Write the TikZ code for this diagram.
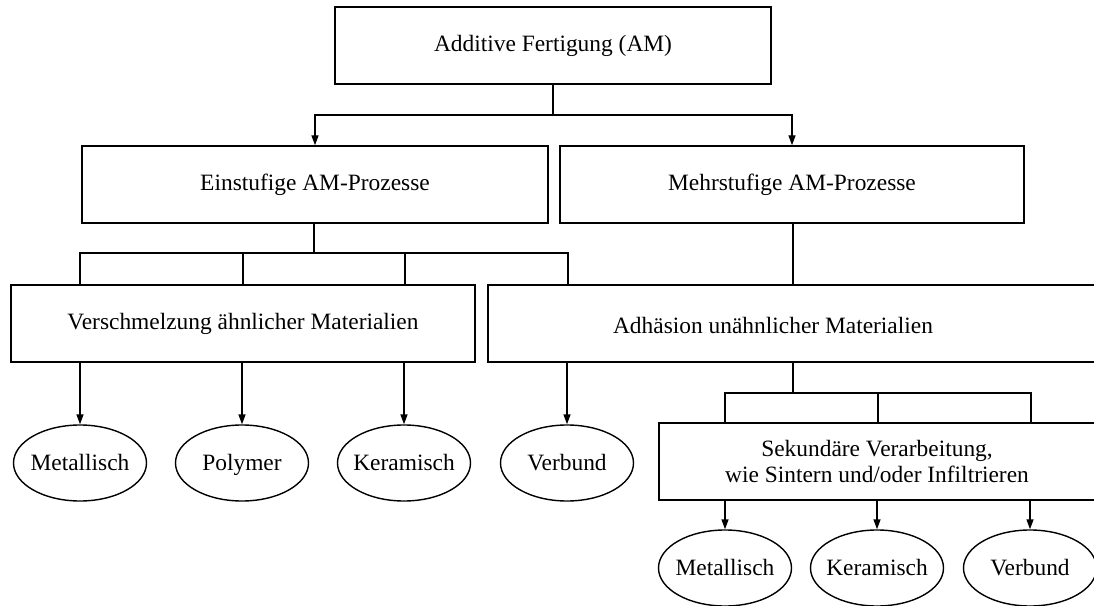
\documentclass[tikz,border=0pt]{standalone}
\usepackage{fontspec}
\setmainfont{Liberation Serif}
\usetikzlibrary{arrows.meta,shapes.geometric}
\tikzset{
  kasten/.style={rectangle,draw,line width=1.4bp,minimum height=77bp,
    inner sep=0pt,font=\fontsize{23.5}{27}\selectfont},
  oval/.style={ellipse,draw,line width=1.4bp,minimum width=133bp,
    minimum height=76bp,inner ysep=0pt,inner xsep=-12bp,
    text height=20bp,text depth=4.4bp,font=\fontsize{23.5}{27}\selectfont},
  beschriftung/.style={inner sep=0pt,font=\fontsize{23.5}{27}\selectfont},
  linie/.style={line width=1.4bp},
  pfeil/.style={linie,-{Triangle[length=10bp,width=7bp]}}
}

\begin{document}
\begin{tikzpicture}[x=1bp,y=-1bp]
\useasboundingbox (0,0) rectangle (1094,606);
% Kaesten
\node[kasten,minimum width=436bp] (am) at (553,45.5) {Additive Fertigung (AM)};
\node[kasten,minimum width=466bp] (ein) at (315,184.5) {Einstufige AM-Prozesse};
\node[kasten,minimum width=464bp] (mehr) at (792,184.5) {Mehrstufige AM-Prozesse};
\node[kasten,minimum width=464bp] (versch) at (243,323.5) {Verschmelzung ähnlicher Materialien};
\node[kasten,minimum width=612bp] (adh) at (794,323.5) {};
\node[beschriftung] (adhtext) at (773,325) {Adhäsion unähnlicher Materialien};
\node[kasten,minimum width=436bp,align=center] (sek) at (877,461.5)
  {Sekundäre Verarbeitung,\\wie Sintern und/oder Infiltrieren};
% Ellipsen
\node[oval] (met1) at (80,463) {Metallisch};
\node[oval] (pol1) at (242,463) {Polymer};
\node[oval] (ker1) at (404,463) {Keramisch};
\node[oval] (ver1) at (567,463) {Verbund};
\node[oval] (met2) at (725,568) {Metallisch};
\node[oval] (ker2) at (877,568) {Keramisch};
\node[oval] (ver2) at (1030,568) {Verbund};
% Verbindungen
\coordinate (t1) at (553,115);
\coordinate (t2) at (314,253);
\coordinate (t3) at (793,393);
\draw[linie] (am.south) -- (t1);
\draw[pfeil] (t1) -| (ein);
\draw[pfeil] (t1) -| (mehr);
\draw[linie] (t2 |- ein.south) -- (t2);
\foreach \x in {80,243,405}
  \draw[linie] (t2) -| (\x,0 |- versch.north);
\draw[linie] (t2) -| (568,0 |- adh.north);
\draw[linie] (t3 |- mehr.south) -- (t3 |- adh.north);
\foreach \n in {met1,pol1,ker1}
  \draw[pfeil] (\n |- versch.south) -- (\n);
\draw[pfeil] (ver1 |- adh.south) -- (ver1);
\draw[linie] (t3 |- adh.south) -- (t3);
\foreach \x in {725,878,1031}
  \draw[linie] (t3) -| (\x,0 |- sek.north);
\foreach \n in {met2,ker2,ver2}
  \draw[pfeil] (\n |- sek.south) -- (\n);
\end{tikzpicture}
\end{document}
